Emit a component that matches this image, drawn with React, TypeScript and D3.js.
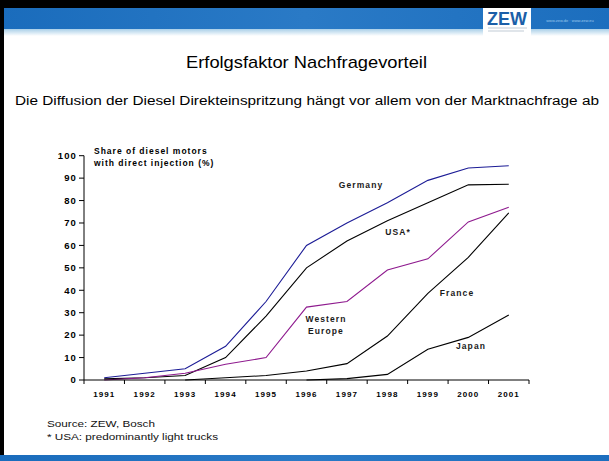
import React, { useEffect, useRef } from 'react';
import * as d3 from 'd3';

const years = ['1991', '1992', '1993', '1994', '1995', '1996', '1997', '1998', '1999', '2000', '2001'];
const yTicks = [0, 10, 20, 30, 40, 50, 60, 70, 80, 90, 100];

const germany = [1, 3, 5, 15, 35, 60, 70, 79, 89, 94.5, 95.5];
const usa = [0.5, 1, 2, 10, 28.5, 50, 62, 71, 79, 87, 87.3];
const westernEurope = [0, 1, 3, 7, 10, 32.5, 35, 49, 54, 70.5, 77];
const france = [null, null, 0, 1, 2, 4, 7.3, 19.6, 38.6, 54.7, 74.5];
const japan = [null, null, null, null, null, 0, 0.6, 2.5, 13.7, 19, 29];

const seriesNames = ['Germany', 'USA*', 'Western Europe', 'France', 'Japan'];
const seriesValues = [germany, usa, westernEurope, france, japan];
const seriesColors = ['#1c1c96', '#000000', '#8e1a8e', '#000000', '#000000'];

const W = 609;
const H = 461;
const FONT = 'Liberation Sans, Arial, sans-serif';

const App = () => {
  const svgRef = useRef<SVGSVGElement>(null);

  useEffect(() => {
    const svg = d3.select(svgRef.current);
    svg.selectAll('*').remove();

    const defs = svg.append('defs');
    const band = defs.append('linearGradient').attr('id', 'band').attr('x1', 0).attr('x2', 1);
    band.append('stop').attr('offset', '0%').attr('stop-color', '#1a6cbc');
    band.append('stop').attr('offset', '50%').attr('stop-color', '#2a7ac6');
    band.append('stop').attr('offset', '100%').attr('stop-color', '#1c6ebe');
    const fade = defs.append('linearGradient').attr('id', 'fade').attr('x1', 0).attr('x2', 0).attr('y1', 0).attr('y2', 1);
    fade.append('stop').attr('offset', '0%').attr('stop-color', '#a9cfe8');
    fade.append('stop').attr('offset', '100%').attr('stop-color', '#ffffff');

    // slide frame
    svg.append('rect').attr('width', W).attr('height', H).attr('fill', '#fff');
    svg.append('rect').attr('width', W).attr('height', 8).attr('fill', '#000');
    svg.append('rect').attr('y', 8).attr('width', W).attr('height', 21).attr('fill', 'url(#band)');
    svg.append('rect').attr('y', 29).attr('width', W).attr('height', 7).attr('fill', 'url(#fade)');
    svg.append('rect').attr('width', 4).attr('height', 456).attr('fill', '#000');
    svg.append('rect').attr('y', 455).attr('width', W).attr('height', 6).attr('fill', 'url(#band)');

    // logo
    svg.append('rect').attr('x', 483).attr('y', 8).attr('width', 48).attr('height', 29).attr('fill', '#fff');
    svg.append('text').attr('x', 507).attr('y', 25).attr('text-anchor', 'middle')
      .attr('font-family', FONT).attr('font-weight', 'bold')
      .attr('font-size', 18).attr('fill', '#1b5fa8').text('ZEW');
    svg.append('line').attr('x1', 488).attr('x2', 527).attr('y1', 28).attr('y2', 28).attr('stroke', '#9ab').attr('stroke-width', 0.6);
    svg.append('line').attr('x1', 488).attr('x2', 524).attr('y1', 31).attr('y2', 31).attr('stroke', '#9ab').attr('stroke-width', 0.6);
    svg.append('text').attr('x', 570).attr('y', 22).attr('text-anchor', 'middle')
      .attr('font-family', FONT).attr('font-size', 4)
      .attr('fill', '#9cc8ec').text('www.zew.de · www.zew.eu');

    // headings
    svg.append('text').attr('x', 186).attr('y', 68)
      .attr('font-family', FONT).attr('font-size', 17)
      .attr('textLength', 241).attr('lengthAdjust', 'spacingAndGlyphs')
      .attr('fill', '#000').text('Erfolgsfaktor Nachfragevorteil');
    svg.append('text').attr('x', 15).attr('y', 105)
      .attr('font-family', FONT).attr('font-size', 12.5)
      .attr('textLength', 584).attr('lengthAdjust', 'spacingAndGlyphs')
      .attr('fill', '#000').text('Die Diffusion der Diesel Direkteinspritzung hängt vor allem von der Marktnachfrage ab');

    // scales
    const x = d3.scaleBand().domain(years).range([84, 529]);
    const y = d3.scaleLinear().domain([0, 100]).range([380, 155.7]);
    const cx = (yr: string) => (x(yr) as number) + x.bandwidth() / 2;

    const chart = svg.append('g').attr('font-family', FONT);

    // lines
    const line = d3.line<number | null>()
      .defined(d => d !== null)
      .x((_, i) => cx(years[i]))
      .y(d => y(d as number));

    seriesValues.forEach((vals, i) => {
      chart.append('path')
        .datum(vals)
        .attr('fill', 'none')
        .attr('stroke', seriesColors[i])
        .attr('stroke-width', 1.1)
        .attr('d', line);
    });

    // y axis
    chart.append('line').attr('x1', 84).attr('x2', 84).attr('y1', y(100)).attr('y2', y(0))
      .attr('stroke', '#000').attr('stroke-width', 1);
    yTicks.forEach(t => {
      chart.append('line').attr('x1', 79).attr('x2', 84).attr('y1', y(t)).attr('y2', y(t))
        .attr('stroke', '#000').attr('stroke-width', 1);
      chart.append('text').attr('x', 77).attr('y', y(t)).attr('dy', '0.35em')
        .attr('text-anchor', 'end').attr('font-size', 9.5).attr('font-weight', 'bold')
        .style('letter-spacing', '1.1px')
        .text(t);
    });

    // x axis
    chart.append('line').attr('x1', 84).attr('x2', 529).attr('y1', y(0)).attr('y2', y(0))
      .attr('stroke', '#000').attr('stroke-width', 1);
    [...years.map(yr => x(yr) as number), 529].forEach(p => {
      chart.append('line').attr('x1', p).attr('x2', p).attr('y1', y(0)).attr('y2', y(0) + 4)
        .attr('stroke', '#000').attr('stroke-width', 1);
    });
    years.forEach(yr => {
      chart.append('text').attr('x', cx(yr)).attr('y', 394).attr('dy', '0.35em')
        .attr('text-anchor', 'middle').attr('font-size', 8).attr('font-weight', 'bold')
        .style('letter-spacing', '1.1px')
        .text(yr);
    });

    // axis title
    chart.append('text').attr('x', 94).attr('y', 154).attr('font-size', 8.5).attr('font-weight', 'bold')
      .style('letter-spacing', '1px')
      .text('Share of diesel motors');
    chart.append('text').attr('x', 94).attr('y', 166).attr('font-size', 8.5).attr('font-weight', 'bold')
      .style('letter-spacing', '1px')
      .text('with direct injection (%)');

    // series labels
    const labels = [
      { lines: ['Germany'], x: 361, y: 185 },
      { lines: ['USA*'], x: 398, y: 232 },
      { lines: ['Western', 'Europe'], x: 326, y: 319 },
      { lines: ['France'], x: 457, y: 293 },
      { lines: ['Japan'], x: 471, y: 346 },
    ];
    labels.forEach((l, i) => {
      const t = chart.append('text').attr('text-anchor', 'middle').attr('font-size', 8.5)
        .attr('font-weight', 'bold').attr('fill', '#1a1a1a').attr('data-series', seriesNames[i])
        .style('letter-spacing', '1.1px');
      l.lines.forEach((s, j) => {
        t.append('tspan').attr('x', l.x).attr('y', l.y + j * 12).attr('dy', '0.35em').text(s);
      });
    });

    // footnotes
    chart.append('text').attr('x', 47).attr('y', 426.5).attr('font-size', 9.5).attr('fill', '#111')
      .attr('textLength', 108).attr('lengthAdjust', 'spacingAndGlyphs')
      .text('Source: ZEW, Bosch');
    chart.append('text').attr('x', 47).attr('y', 439.5).attr('font-size', 9.5).attr('fill', '#111')
      .attr('textLength', 171).attr('lengthAdjust', 'spacingAndGlyphs')
      .text('* USA: predominantly light trucks');
  }, []);

  return (
    <svg ref={svgRef} width={W} height={H} style={{ position: 'absolute', left: 0, top: 0, display: 'block' }} />
  );
};

export default App;
